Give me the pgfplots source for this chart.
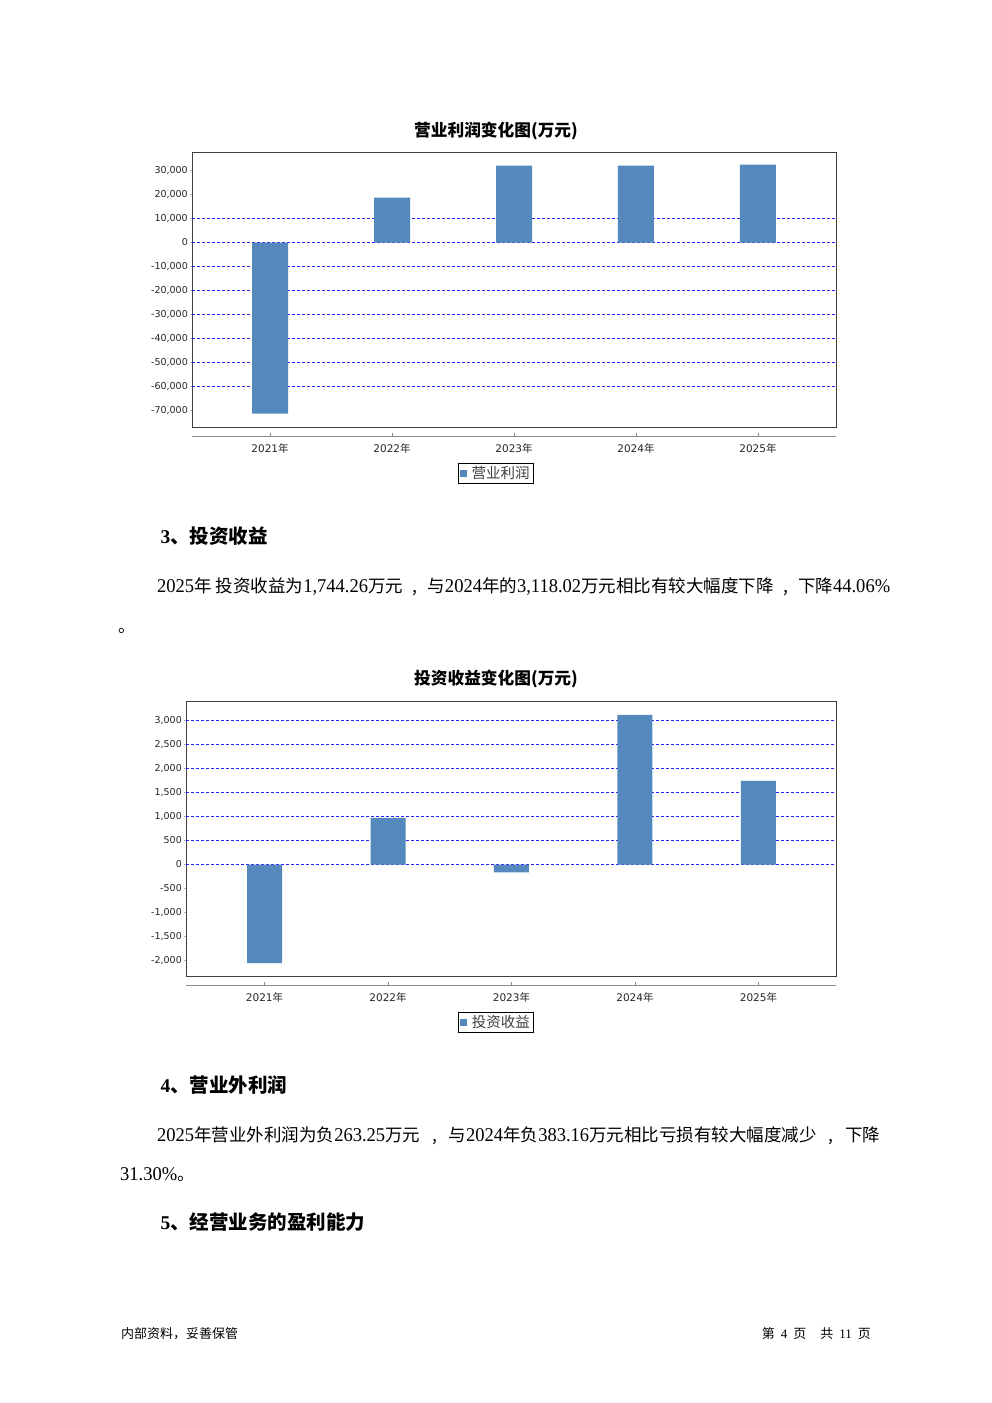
\documentclass[border=0pt]{standalone}
\usepackage{fontspec}
\setmainfont{Liberation Serif}
\newfontfamily\cjk{Noto Sans CJK SC}
\newfontfamily\dv{DejaVu Sans}
\newfontfamily\tn{Liberation Serif}[FakeStretch=0.95]
\usepackage{pgfplots}
\pgfplotsset{compat=1.18}
\newcommand\C[1]{{\cjk #1}}
\newcommand\N[1]{{\tn\fontsize{19.5}{22}\selectfont #1}}
\definecolor{barblue}{RGB}{85,137,190}
\definecolor{gridblue}{RGB}{30,30,255}
\tikzset{gridline/.style={draw=gridblue, dash pattern=on 3pt off 2pt, line width=1pt}}
\pgfplotsset{
  chartA/.style={
    scale only axis, height=275pt,
    xtick=\empty, scaled y ticks=false,
    ytick pos=left, tick align=outside, major tick length=2pt,
    tick style={black!30, line width=0.6pt},
    yticklabel style={font=\dv\fontsize{9.5}{10}\selectfont, inner sep=2pt, text=black!85},
    axis line style={draw=black!75, line width=0.8pt},
    legend style={anchor=center, draw=black, line width=0.8pt,
      font=\cjk\fontsize{14.5}{15}\selectfont, inner xsep=2pt, inner ysep=1pt, outer sep=0pt,
      text=black!75, legend cell align=left},
    legend image code/.code={\fill[barblue] (0pt,-3.5pt) rectangle (7pt,3.5pt);},
  },
  chartB/.style={
    scale only axis, height=10pt, ymin=0, ymax=1,
    axis x line*=bottom, axis y line=none,
    xtick={0,1,2,3,4},
    tick align=inside, major tick length=3pt,
    tick style={black!45, line width=0.6pt},
    axis line style={black!45, line width=0.8pt},
    xticklabel style={font=\dv\fontsize{10.5}{11}\selectfont, inner sep=3pt, yshift=-4pt, text=black!85},
    xticklabels={2021\C{年},2022\C{年},2023\C{年},2024\C{年},2025\C{年}},
  },
}
\begin{document}
\begin{tikzpicture}
\fill[white] (0,0) rectangle (992pt,-1403pt);
\path[use as bounding box] (0,0) rectangle (992pt,-1403pt);

% ---------- Chart 1 ----------
\node[anchor=base] at (496pt,-136pt) {\cjk\bfseries\fontsize{16.7}{18}\selectfont 营业利润变化图(万元)};
\begin{axis}[chartA,
  at={(192pt,-152pt)}, anchor=north west, width=644pt,
  xmin=-0.64, xmax=4.64, ymin=-76875, ymax=37708.3,
  ytick={-70000,-60000,-50000,-40000,-30000,-20000,-10000,0,10000,20000,30000},
  yticklabels={{-70,000},{-60,000},{-50,000},{-40,000},{-30,000},{-20,000},{-10,000},{0},{10,000},{20,000},{30,000}},
  legend style={at={(0.472,-0.169)}},
]
\pgfplotsinvokeforeach{-60000,-50000,-40000,-30000,-20000,-10000,0,10000}{
  \draw[gridline] (axis cs:-0.64,#1) -- (axis cs:4.64,#1);}
\addplot[ybar, bar width=36pt, fill=barblue, draw=none]
  coordinates {(0,-71250) (1,18750) (2,32083) (3,32000) (4,32500)};
\addlegendentry{\,营业利润}
\end{axis}
\begin{axis}[chartB, at={(192pt,-436pt)}, anchor=south west, width=644pt,
  xmin=-0.64, xmax=4.64]
\end{axis}

% ---------- Section 3 ----------
\node[anchor=base west] at (157pt,-543pt) {\fontsize{19.5}{21}\selectfont\bfseries 3\C{、投资收益}};
\node[anchor=base west, inner sep=0pt] at (157pt,-592pt) {\cjk\fontsize{17.5}{20}\selectfont
  \makebox[733pt][s]{\N{2025}年\hspace{4pt}投资收益为\N{1,744.26}万元\hfill,\hfill 与\N{2024}年的\N{3,118.02}万元相比有较大幅度下降\hfill,\hfill 下降\N{44.06\%}}};
\node[anchor=base west, inner sep=0pt] at (118pt,-632pt) {\fontsize{17}{20}\selectfont\C{。}};

% ---------- Chart 2 ----------
\node[anchor=base] at (496pt,-684pt) {\cjk\bfseries\fontsize{16.7}{18}\selectfont 投资收益变化图(万元)};
\begin{axis}[chartA,
  at={(186pt,-701pt)}, anchor=north west, width=650pt,
  xmin=-0.636, xmax=4.628, ymin=-2322.92, ymax=3406.25,
  ytick={-2000,-1500,-1000,-500,0,500,1000,1500,2000,2500,3000},
  yticklabels={{-2,000},{-1,500},{-1,000},{-500},{0},{500},{1,000},{1,500},{2,000},{2,500},{3,000}},
  legend style={at={(0.477,-0.169)}},
]
\pgfplotsinvokeforeach{0,500,1000,1500,2000,2500,3000}{
  \draw[gridline] (axis cs:-0.636,#1) -- (axis cs:4.628,#1);}
\addplot[ybar, bar width=35pt, fill=barblue, draw=none]
  coordinates {(0,-2055) (1,972) (2,-165) (3,3118.02) (4,1744.26)};
\addlegendentry{\,投资收益}
\end{axis}
\begin{axis}[chartB, at={(186pt,-985pt)}, anchor=south west, width=650pt,
  xmin=-0.636, xmax=4.628]
\end{axis}

% ---------- Section 4 ----------
\node[anchor=base west] at (157pt,-1092pt) {\fontsize{19.5}{21}\selectfont\bfseries 4\C{、营业外利润}};
\node[anchor=base west, inner sep=0pt] at (157pt,-1141pt) {\cjk\fontsize{17.5}{20}\selectfont
  \makebox[723pt][s]{\N{2025}年营业外利润为负\N{263.25}万元\hfill,\hfill 与\N{2024}年负\N{383.16}万元相比亏损有较大幅度减少\hfill,\hfill 下降}};
\node[anchor=base west, inner sep=0pt] at (120pt,-1180pt) {\cjk\fontsize{17.5}{20}\selectfont \N{31.30\%}。};

% ---------- Section 5 ----------
\node[anchor=base west] at (157pt,-1229pt) {\fontsize{19.5}{21}\selectfont\bfseries 5\C{、经营业务的盈利能力}};

% ---------- Footer ----------
\node[anchor=base west, inner sep=0pt] at (121pt,-1338pt) {\cjk\fontsize{13}{14}\selectfont 内部资料，妥善保管};
\node[anchor=base east, inner sep=0pt] at (871pt,-1338pt) {\cjk\fontsize{13}{14}\selectfont 第\hspace{6pt}{\rmfamily 4}\hspace{6pt}页\hspace{14pt}共\hspace{6pt}{\rmfamily 11}\hspace{6pt}页};
\end{tikzpicture}
\end{document}
